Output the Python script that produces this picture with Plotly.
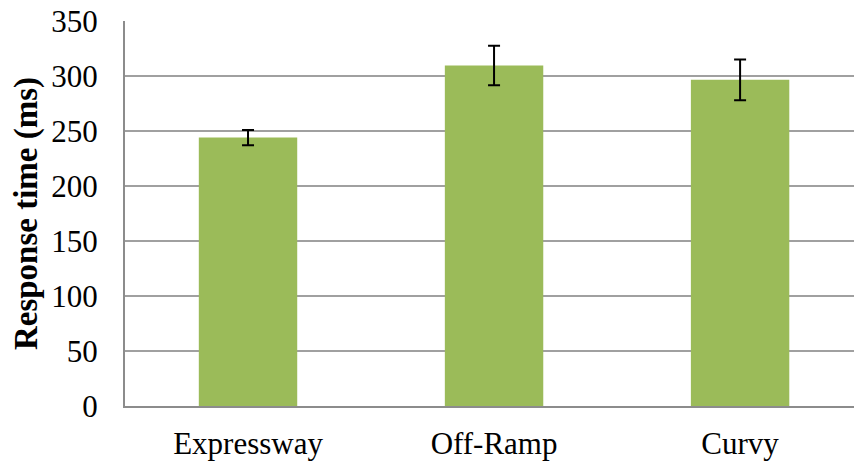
import plotly.graph_objects as go

categories = ["Expressway", "Off-Ramp", "Curvy"]
means = [244, 309.5, 296.5]
errors = [7, 18, 18.5]
y_ticks = [0, 50, 100, 150, 200, 250, 300, 350]

fig = go.Figure()
fig.add_trace(go.Bar(
    x=categories, y=means, width=0.40,
    marker=dict(color="#9BBB59", line=dict(width=0)),
    error_y=dict(type="data", array=errors, visible=True,
                 color="black", thickness=2, width=6),
))

font_family = "Liberation Serif, Times New Roman, serif"
fig.update_layout(
    width=854, height=463,
    margin=dict(l=125, r=0, t=21, b=57),
    paper_bgcolor="white", plot_bgcolor="white",
    showlegend=False,
    font=dict(family=font_family, color="black"),
    xaxis=dict(
        range=[-0.5, 2.463], showgrid=False,
        showline=True, linecolor="#8c8c8c", linewidth=2,
        ticks="", tickfont=dict(size=31, family=font_family, color="black"),
        ticklabelstandoff=9, automargin=False,
    ),
    yaxis=dict(
        range=[0, 350], tickvals=y_ticks,
        showgrid=True, gridcolor="#a0a0a0", gridwidth=2,
        showline=True, linecolor="#8c8c8c", linewidth=2,
        zeroline=False, ticks="",
        tickfont=dict(size=31, family=font_family, color="black"),
        ticklabelstandoff=19, automargin=False,
        title=dict(text="<b>Response time (ms)</b>",
                   font=dict(size=33, family=font_family, color="black"),
                   standoff=4),
    ),
)

fig.write_html(
    "out.html",
    config={"displayModeBar": False},
    post_script="document.body.style.margin='0';document.body.style.overflow='hidden';",
)
